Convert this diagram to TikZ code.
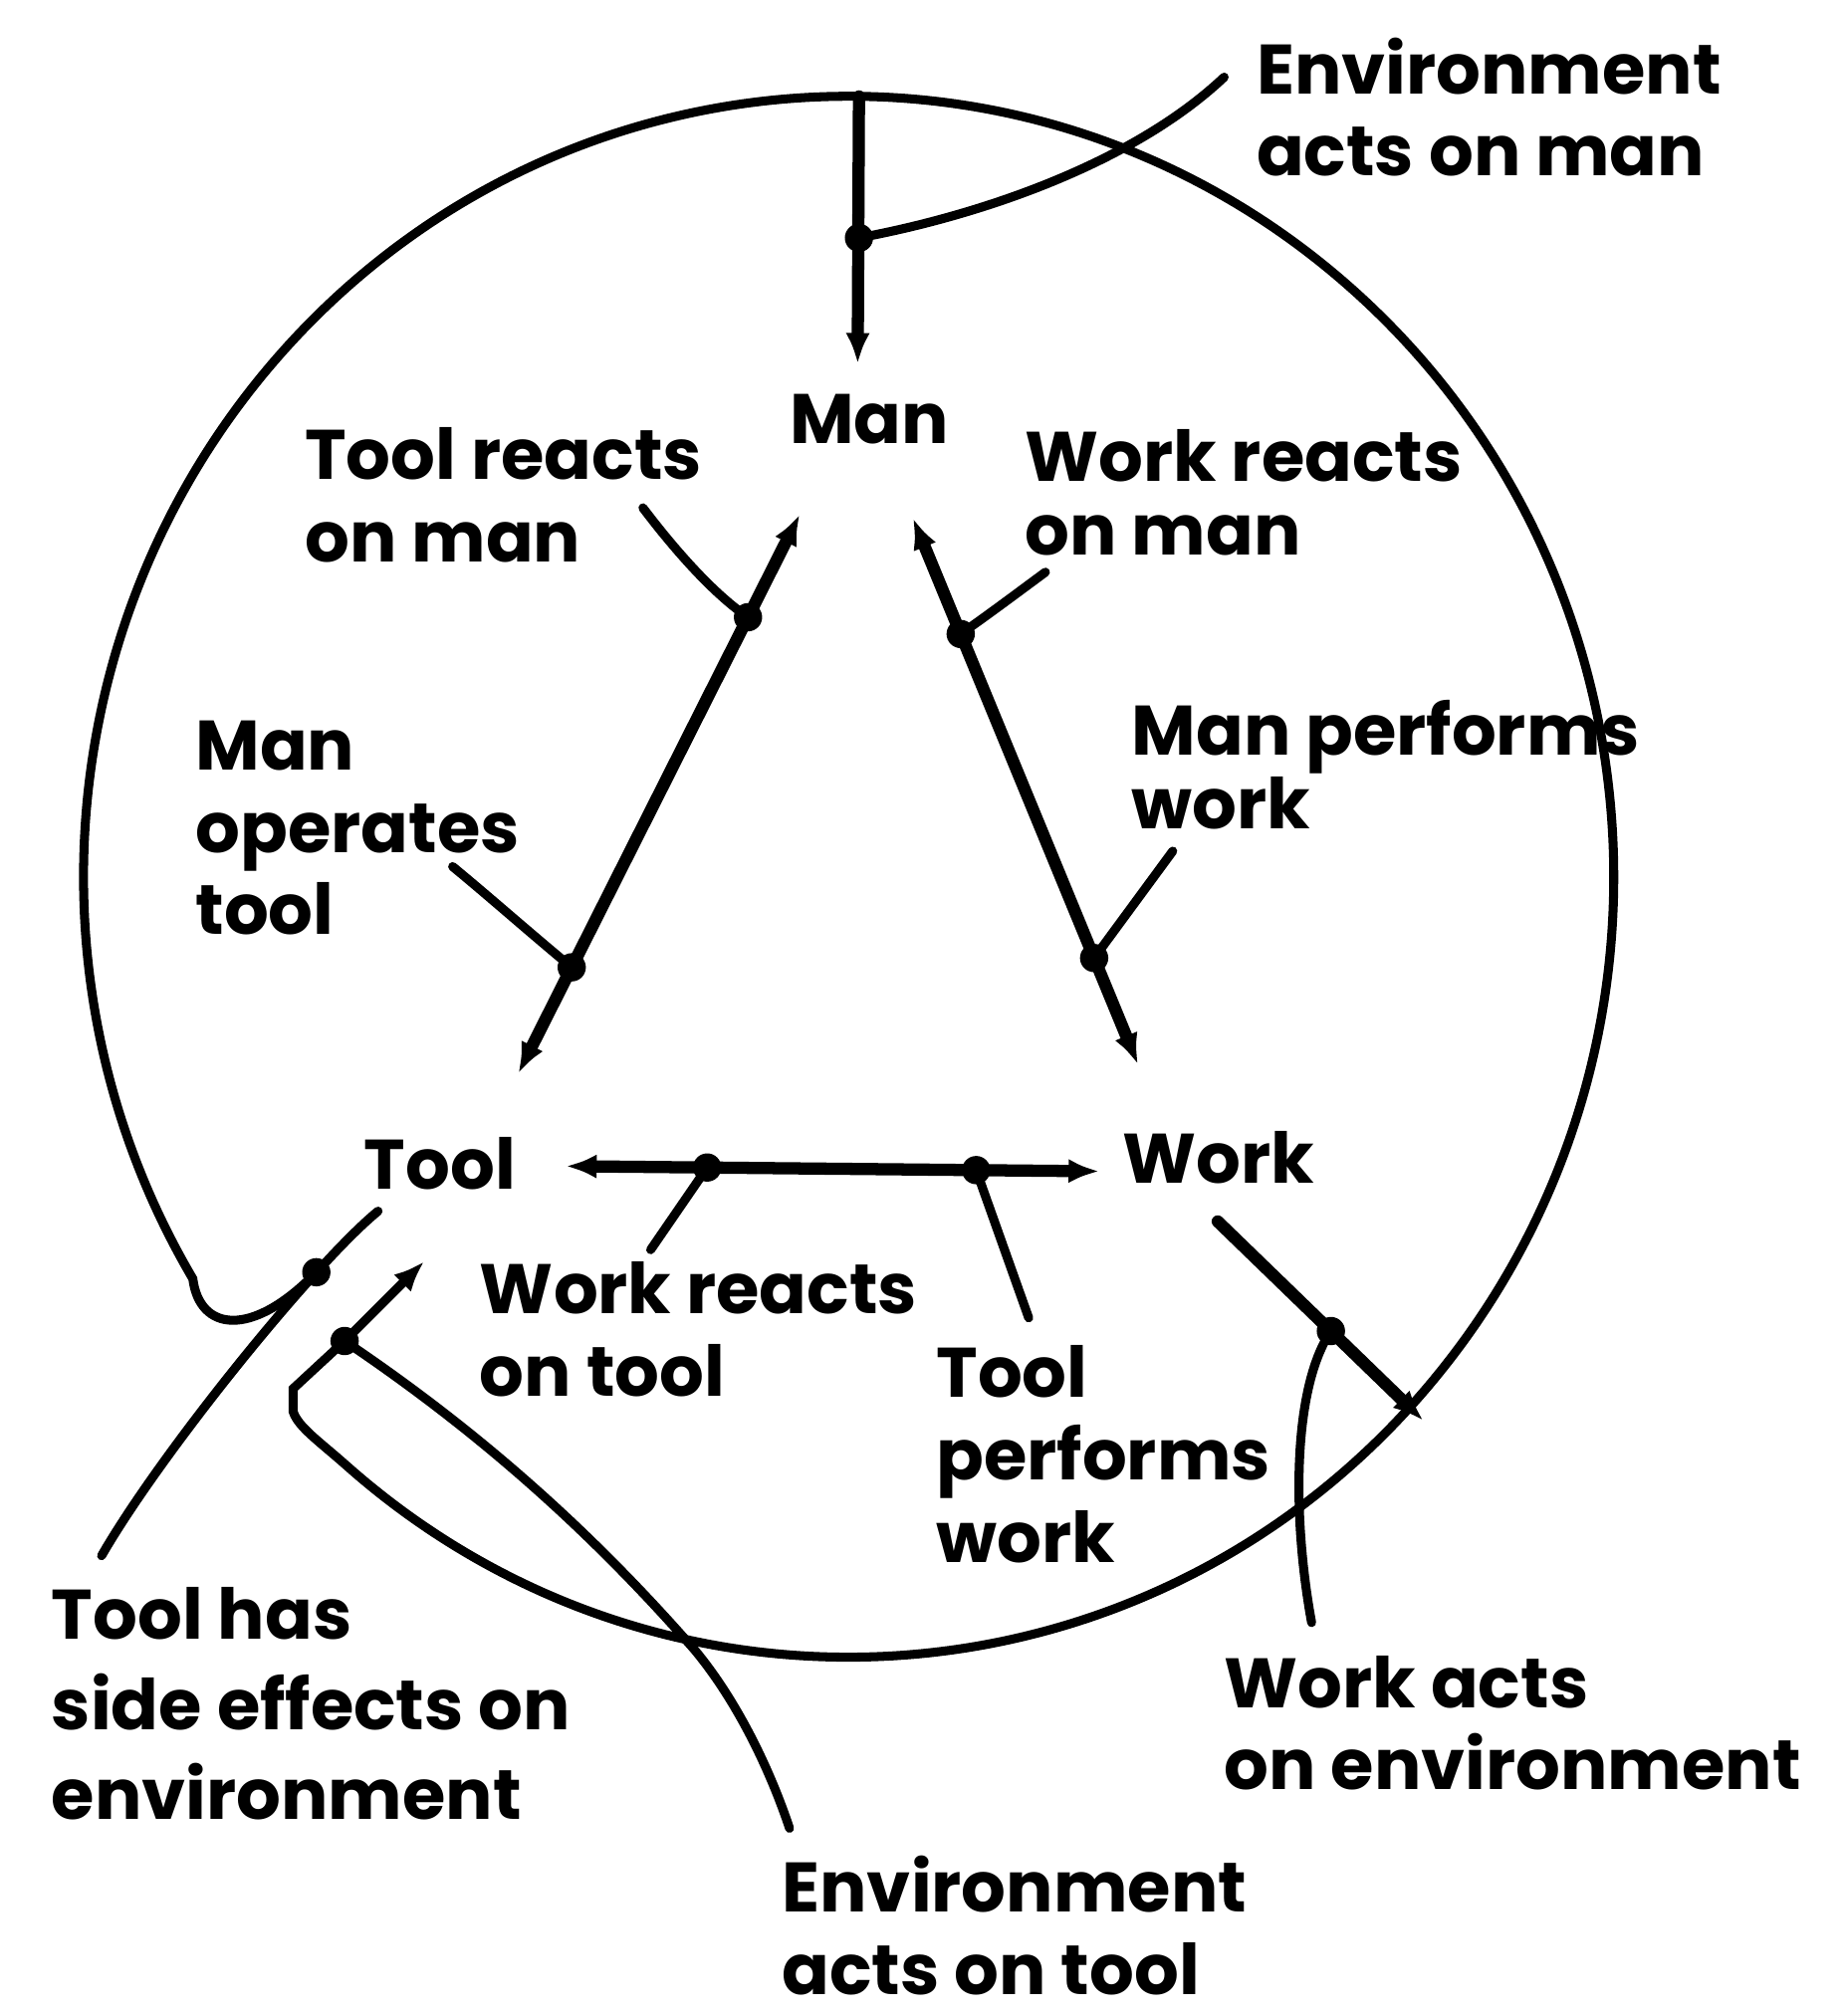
\documentclass[tikz,border=0pt]{standalone}
\usepackage{fontspec}
\setmainfont{Poppins}
\usetikzlibrary{arrows.meta,calc}
\begin{document}
\begin{tikzpicture}[x=1pt,y=-1pt,
  lab/.style={font=\fontsize{54.5}{64}\selectfont\bfseries, align=left, anchor=base west, inner sep=0pt},
  wide/.style={font=\fontsize{54.5}{70}\selectfont\bfseries},
  tight/.style={font=\fontsize{54.5}{58}\selectfont\bfseries},
  main/.style={line width=9.5pt, line cap=round},
  thinl/.style={line width=7pt, line cap=round},
  tip/.style={-{Latex[length=24pt,width=19pt]}},
  both/.style={{Latex[length=24pt,width=19pt]}-{Latex[length=24pt,width=19pt]}},
  dot/.style={circle, fill, inner sep=0pt, minimum size=22pt}]
\useasboundingbox (0,0) rectangle (1434,1568);

% labels (positions are the baseline of the last line)
\node[lab] (envman) at (977,137) {Environment\\acts on man};
\node[lab] (man) at (614,345) {Man};
\node[lab] (trm) at (237,437) {Tool reacts\\on man};
\node[lab,tight] (wrm) at (797,432) {Work reacts\\on man};
\node[lab] (mot) at (152,727) {Man\\operates\\tool};
\node[lab,tight] (mpw) at (880,645) {Man performs\\work};
\node[lab] (tool) at (283,925) {Tool};
\node[lab] (work) at (873,920) {Work};
\node[lab] (wrt) at (373,1086) {Work reacts\\on tool};
\node[lab] (tpw) at (728,1215) {Tool\\performs\\work};
\node[lab,wide] (tse) at (40,1415) {Tool has\\side effects on\\environment};
\node[lab] (wae) at (952,1392) {Work acts\\on environment};
\node[lab,text depth=0pt] (eat) at (608,1551) {Environment\\acts on tool};

% coordinates
\coordinate (T) at (668,75);
\coordinate (manIn) at (667,283);
\coordinate (D1) at (668,185);
\coordinate (emEnd) at (952,60);
\coordinate (ML) at (622,400);
\coordinate (TL) at (403,835);
\coordinate (MR) at (710,403);
\coordinate (WR) at (885,828);
\coordinate (TH) at (440,907);
\coordinate (WH) at (855,911);
\coordinate (WE1) at (947,950);
\coordinate (WE2) at (1107,1105);
\coordinate (SE1) at (294,942);
\coordinate (SE2) at (79,1210);
\coordinate (A) at (246,989.5);
\coordinate (B) at (268,1043);
\coordinate (ETtip) at (330,981);
\coordinate (ETend) at (614,1422);
\coordinate (trmEnd) at (500,395);
\coordinate (motEnd) at (352,674);
\coordinate (wrmEnd) at (813,445);
\coordinate (mpwEnd) at (912,662);
\coordinate (wrtEnd) at (506,972);
\coordinate (tpwEnd) at (800,1025);
\coordinate (waeEnd) at (1020,1262);
\coordinate (D2) at ($(ML)!0.184!(TL)$);
\coordinate (D3) at ($(ML)!0.81!(TL)$);
\coordinate (D4) at ($(MR)!0.212!(WR)$);
\coordinate (D5) at ($(MR)!0.805!(WR)$);
\coordinate (D6) at ($(TH)!0.265!(WH)$);
\coordinate (D7) at ($(TH)!0.769!(WH)$);
\coordinate (D8) at ($(WE1)!0.55!(WE2)$);

% environment circle
\draw[thinl] (B) -- (228,1080) -- (228,1098) .. controls (232,1110) and (247.6,1120.5) .. (269.6,1140)
  arc[start angle=131, end angle=-211, x radius=595, y radius=607]
  .. controls (155,1035) and (195,1042) .. (A);

% arrows
\draw[main,tip] (T) -- (manIn);
\draw[thinl] (emEnd) .. controls (880,128) and (760,168) .. (D1);
\draw[main,both] (ML) -- (TL);
\draw[main,both] (MR) -- (WR);
\draw[main,both] (TH) -- (WH);
\draw[main,tip] (WE1) -- (WE2);
\draw[thinl] (trmEnd) .. controls (525,428) and (555,462) .. (D2);
\draw[thinl] (motEnd) .. controls (380,697) and (415,728) .. (D3);
\draw[thinl] (wrmEnd) .. controls (790,462) and (770,477) .. (D4);
\draw[thinl] (mpwEnd) -- (D5);
\draw[thinl] (wrtEnd) -- (D6);
\draw[thinl] (tpwEnd) -- (D7);
\draw[thinl] (waeEnd) .. controls (1005,1180) and (1005,1080) .. (D8);
\draw[thinl] (SE1) .. controls (245,982) and (125,1130) .. (SE2);
\draw[thinl,tip] (B) -- (ETtip);
\draw[thinl] (ETend) .. controls (600,1380) and (575,1325) .. (540,1283)
  .. controls (450,1180) and (360,1105) .. (B);

% junction dots
\foreach \p/\n in {D1/d1,D2/d2,D3/d3,D4/d4,D5/d5,D6/d6,D7/d7,D8/d8,A/da,B/db}
  \node[dot] (\n) at (\p) {};
\end{tikzpicture}
\end{document}
